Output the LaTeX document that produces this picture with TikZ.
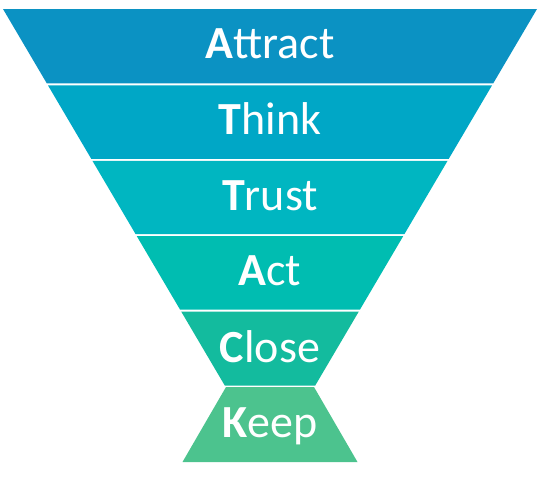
\documentclass[tikz,border=0pt]{standalone}
\usepackage{fontspec}
\setmainfont{Carlito}
\definecolor{cA}{HTML}{0B92C3}
\definecolor{cB}{HTML}{00A7C6}
\definecolor{cC}{HTML}{00B6C1}
\definecolor{cD}{HTML}{00BDB1}
\definecolor{cE}{HTML}{13BB9E}
\definecolor{cF}{HTML}{4CC38E}
\tikzset{
  bandlabel/.style={text=white, font=\fontsize{46}{52}\selectfont, anchor=base, inner sep=0pt}
}
\newcommand{\hw}[1]{267-0.589*(#1-9)}
\newcommand{\band}[3]{% color, ytop, ybot
  \fill[#1] ({270-(\hw{#2})},#2) -- ({270+(\hw{#2})},#2) -- ({270+(\hw{#3})},#3) -- ({270-(\hw{#3})},#3) -- cycle;
}
\begin{document}
\begin{tikzpicture}[x=1pt,y=-1pt]
\useasboundingbox (0,0) rectangle (540,480);
\band{cA}{9}{83.4}
\band{cB}{85.4}{158.8}
\band{cC}{160.8}{234.2}
\band{cD}{236.2}{309.6}
\band{cE}{311.6}{385.5}
\fill[cF] (226,387) -- (314,387) -- (357.5,462) -- (182.5,462) -- cycle;
\node[bandlabel] (attract) at (270,58) {\textbf{A}ttract};
\node[bandlabel] (think) at (270,134) {\textbf{T}hink};
\node[bandlabel] (trust) at (270,210) {\textbf{T}rust};
\node[bandlabel] (act) at (270,285) {\textbf{A}ct};
\node[bandlabel] (close) at (270,362) {\textbf{C}lose};
\node[bandlabel] (keep) at (270,437) {\textbf{K}eep};
\end{tikzpicture}
\end{document}
